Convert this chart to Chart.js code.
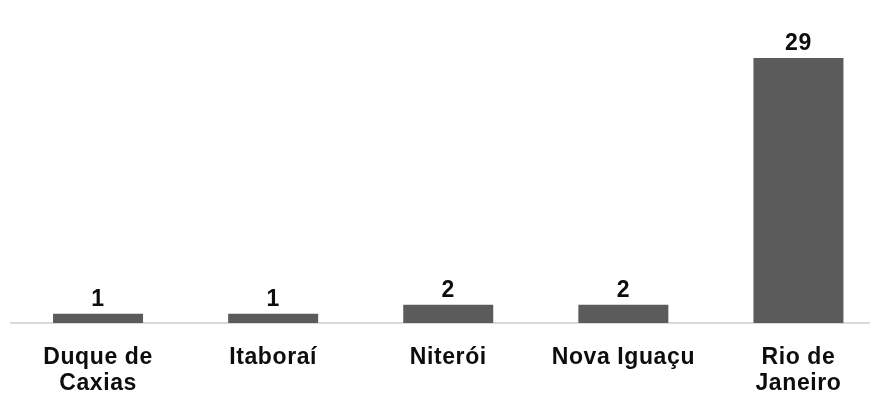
<!DOCTYPE html>
<html>
<head>
<meta charset="utf-8">
<script src="https://cdn.jsdelivr.net/npm/chart.js@4/dist/chart.umd.min.js"></script>
<style>
  html, body { margin: 0; padding: 0; background: #fff; overflow: hidden; }
  #wrap { width: 886px; height: 394px; }
</style>
</head>
<body>
<div id="wrap"><canvas id="c" width="886" height="394"></canvas></div>
<script>
const categories = [["Duque de", "Caxias"], "Itaboraí", "Niterói", "Nova Iguaçu", ["Rio de", "Janeiro"]];
const values = [1, 1, 2, 2, 29];

const FONT = "'Liberation Sans', Arial, sans-serif";

const valueLabels = {
  id: 'valueLabels',
  afterDatasetsDraw(chart) {
    const ctx = chart.ctx;
    const meta = chart.getDatasetMeta(0);
    ctx.save();
    ctx.font = "bold 23px " + FONT;
    ctx.fillStyle = '#0d0d0d';
    ctx.textAlign = 'center';
    ctx.textBaseline = 'alphabetic';
    meta.data.forEach((bar, i) => {
      ctx.fillText(String(values[i]), bar.x, bar.y - 8);
    });
    ctx.restore();
  }
};

const spacing = {
  id: 'spacing',
  beforeDraw(chart) { chart.ctx.letterSpacing = '0.6px'; }
};

new Chart(document.getElementById('c'), {
  type: 'bar',
  data: {
    labels: categories,
    datasets: [{
      data: values,
      backgroundColor: '#5b5b5b',
      borderWidth: 0,
      barPercentage: 0.514,
      categoryPercentage: 1
    }]
  },
  options: {
    responsive: false,
    animation: false,
    events: [],
    layout: { padding: { left: 10.5, right: 0, top: 58, bottom: 0 } },
    plugins: { legend: { display: false }, tooltip: { enabled: false } },
    scales: {
      x: {
        grid: { display: false },
        border: { display: true, color: '#d9d9d9', width: 2 },
        ticks: {
          color: '#0d0d0d',
          font: { family: FONT, size: 23, weight: 'bold', lineHeight: 1.13 },
          padding: 14,
          maxRotation: 0,
          autoSkip: false
        },
        afterFit(scale) { scale.height = 71; }
      },
      y: {
        display: false,
        min: 0,
        max: 29
      }
    }
  },
  plugins: [valueLabels, spacing]
});
</script>
</body>
</html>
